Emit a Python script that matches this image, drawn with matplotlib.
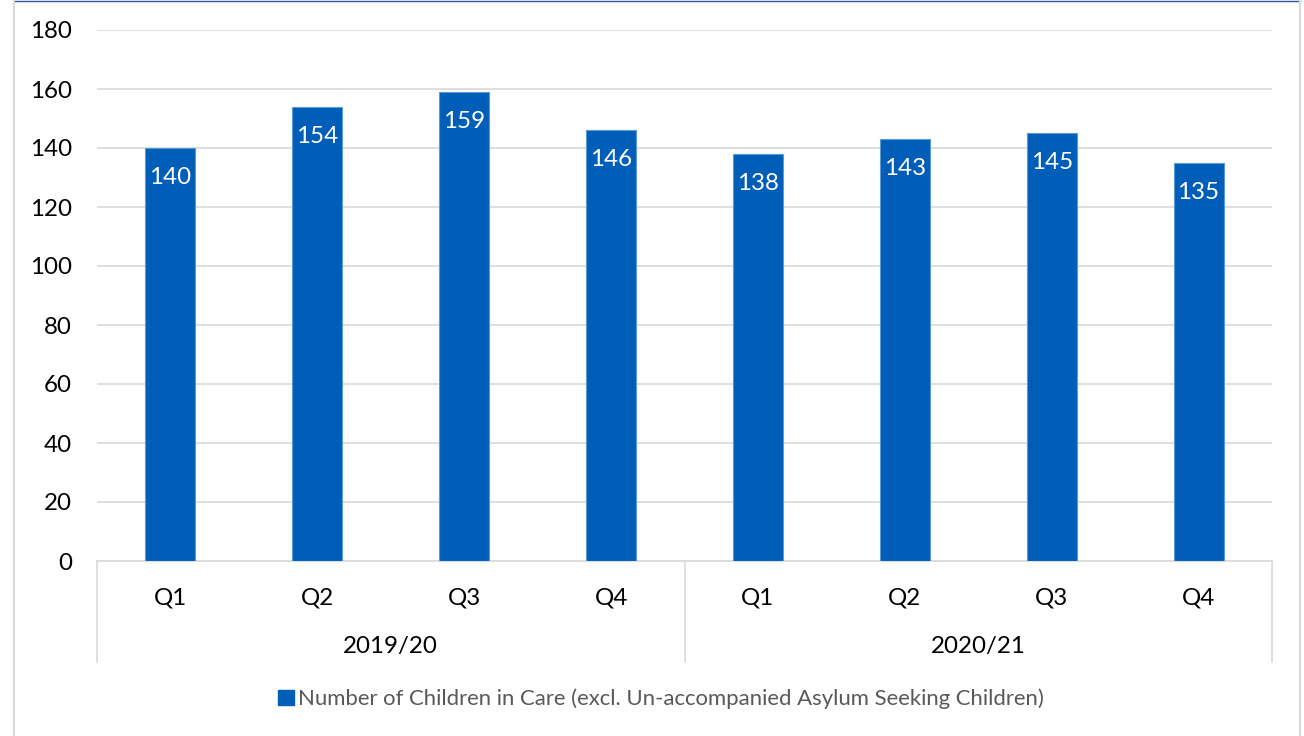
import numpy as np
import matplotlib.pyplot as plt
from matplotlib.patches import Rectangle
from matplotlib.lines import Line2D

quarters = ['Q1', 'Q2', 'Q3', 'Q4', 'Q1', 'Q2', 'Q3', 'Q4']
years = ['2019/20', '2020/21']
children = [140, 154, 159, 146, 138, 143, 145, 135]
legend_label = 'Number of Children in Care (excl. Un-accompanied Asylum Seeking Children)'

plt.rcParams['font.family'] = ['Lato', 'DejaVu Sans']
bar_color = '#005EB8'
fs = 17.4

fig = plt.figure(figsize=(13.04, 7.36), dpi=100)
W, H = 1304, 736
left, right, bottom, top = 97 / W, 1272 / W, 1 - 561 / H, 1 - 30 / H
ax = fig.add_axes([left, bottom, right - left, top - bottom])

x = np.arange(len(children))
ax.bar(x, children, width=0.34, color=bar_color, edgecolor='#5B9BD5', linewidth=0.8, zorder=3)
for xi, v in zip(x, children):
    ax.text(xi, v - 10, str(v), ha='center', va='center', color='white', fontsize=fs, zorder=4)

ax.set_xlim(-0.5, len(children) - 0.5)
ax.set_ylim(0, 180)
ax.set_yticks(range(0, 181, 20))
ax.grid(axis='y', color='#D9D9D9', linewidth=1.2, zorder=0)
for s in ['top', 'right', 'left']:
    ax.spines[s].set_visible(False)
ax.spines['bottom'].set_color('#D9D9D9')
ax.spines['bottom'].set_linewidth(1.2)
ax.tick_params(axis='y', length=0, labelsize=fs, pad=18)
ax.tick_params(axis='x', length=0)
ax.set_xticks(x)
ax.set_xticklabels(quarters, fontsize=fs)
ax.tick_params(axis='x', pad=19)

# year group labels and separators
trans = ax.get_xaxis_transform()
sep_bottom = -(662 - 561) / (561 - 30)
for xs in [-0.5, 3.5, 7.5]:
    ax.add_line(Line2D([xs, xs], [0, sep_bottom], transform=trans, color='#D9D9D9',
                       linewidth=1.2, clip_on=False))
for i, yr in enumerate(years):
    ax.text(i * 4 + 1.5, -(647 - 561) / (561 - 30), yr, transform=trans,
            ha='center', va='center', fontsize=fs)

# legend
fig.legend([Rectangle((0, 0), 1, 1, color=bar_color)], [legend_label], loc='center',
           bbox_to_anchor=(661 / W, 1 - 699 / H), frameon=False, fontsize=15.9,
           labelcolor='#595959', handlelength=0.7, handleheight=0.7, handletextpad=0.2)

# outer frame
fig.add_artist(Line2D([14 / W, 1300 / W], [1 - 1 / H, 1 - 1 / H], color='#2F5597', linewidth=1))
fig.add_artist(Line2D([14 / W, 14 / W], [0, 1], color='#D9D9D9', linewidth=1.5))
fig.add_artist(Line2D([1300 / W, 1300 / W], [0, 1], color='#D9D9D9', linewidth=1.5))

fig.savefig('out.png', dpi=100)
